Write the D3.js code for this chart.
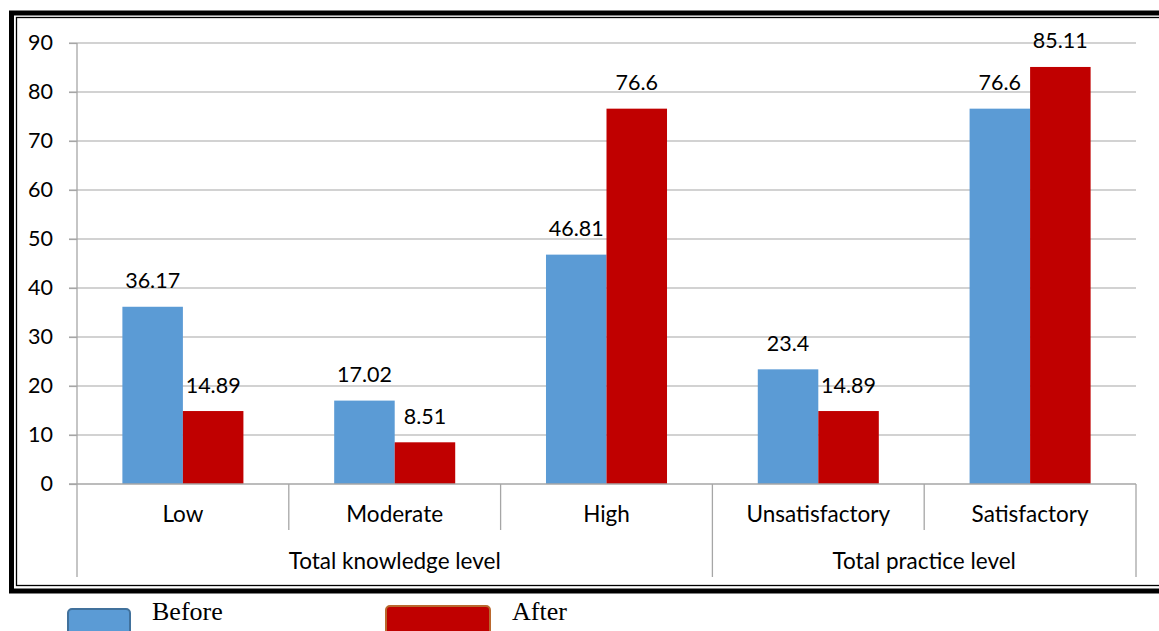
<!DOCTYPE html>
<html>
<head>
<meta charset="utf-8">
<script src="https://cdn.jsdelivr.net/npm/d3@7"></script>
<style>
  html, body { margin: 0; padding: 0; background: #fff; }
  svg { display: block; }
  text { font-family: Lato, "Noto Sans", sans-serif; fill: #000; }
  .legend-text { font-family: "Liberation Serif", "Times New Roman", serif; }
</style>
</head>
<body>
<svg id="chart" width="1159" height="631"></svg>
<script>
// Chart data
const categories = ["Low", "Moderate", "High", "Unsatisfactory", "Satisfactory"];
const groups = [
  { name: "Total knowledge level", span: 3 },
  { name: "Total practice level", span: 2 }
];
const seriesNames = ["Before", "After"];
const beforeValues = [36.17, 17.02, 46.81, 23.4, 76.6];
const afterValues = [14.89, 8.51, 76.6, 14.89, 85.11];
const yTicks = [0, 10, 20, 30, 40, 50, 60, 70, 80, 90];
const seriesColors = ["#5B9BD5", "#C00000"];
const legendStrokes = ["#41719C", "#B9682E"];

const svg = d3.select("#chart");

// Double frame around the chart area
svg.append("rect").attr("x", 11.5).attr("y", 13).attr("width", 1200).attr("height", 578)
  .attr("fill", "none").attr("stroke", "#000").attr("stroke-width", 5);
svg.append("rect").attr("x", 16.5).attr("y", 17.5).attr("width", 1200).attr("height", 568)
  .attr("fill", "none").attr("stroke", "#000").attr("stroke-width", 1.3);

const plot = { left: 77, right: 1136, top: 43, bottom: 484 };

const x0 = d3.scaleBand().domain(categories).range([plot.left, plot.right]).padding(0);
const x1 = d3.scaleBand().domain(seriesNames)
  .range([0, x0.bandwidth()]).paddingOuter(0.75).paddingInner(0);
const y = d3.scaleLinear().domain([0, 90]).range([plot.bottom, plot.top]);

// Horizontal gridlines
svg.append("g").selectAll("line").data(yTicks.filter(t => t > 0)).join("line")
  .attr("x1", plot.left - 8).attr("x2", plot.right)
  .attr("y1", d => y(d)).attr("y2", d => y(d))
  .attr("stroke", "#a6a6a6").attr("stroke-width", 1.2);

// Y axis
const yAxis = svg.append("g").attr("transform", `translate(${plot.left},0)`)
  .call(d3.axisLeft(y).tickValues(yTicks).tickSize(8).tickPadding(16));
yAxis.select(".domain").remove();
yAxis.selectAll(".tick line").attr("stroke", "#a6a6a6").attr("stroke-width", 1.2);
yAxis.selectAll(".tick text").attr("font-size", 21.5).attr("font-family", "Lato").attr("fill", "#000");

// Bars
const rows = categories.map((c, i) => ({ cat: c, vals: [beforeValues[i], afterValues[i]] }));
const barG = svg.append("g");
rows.forEach(r => {
  r.vals.forEach((v, j) => {
    const s = seriesNames[j];
    barG.append("rect")
      .attr("x", x0(r.cat) + x1(s))
      .attr("y", y(v))
      .attr("width", x1.bandwidth())
      .attr("height", y(0) - y(v))
      .attr("fill", seriesColors[j]);
  });
});

// Value labels
rows.forEach(r => {
  r.vals.forEach((v, j) => {
    const s = seriesNames[j];
    svg.append("text")
      .attr("x", x0(r.cat) + x1(s) + x1.bandwidth() / 2)
      .attr("y", y(v) - 18.5)
      .attr("text-anchor", "middle")
      .attr("font-size", 21.5)
      .text(String(v));
  });
});

// Vertical axis line and category axis
const axisColor = "#a6a6a6";
svg.append("line").attr("x1", plot.left).attr("x2", plot.left)
  .attr("y1", plot.top).attr("y2", 577).attr("stroke", axisColor).attr("stroke-width", 1.3);
svg.append("line").attr("x1", plot.left - 8).attr("x2", plot.right)
  .attr("y1", y(0)).attr("y2", y(0)).attr("stroke", axisColor).attr("stroke-width", 1.3);

// Separators between categories (short) and groups (long)
let idx = 0;
const groupEdges = [0];
groups.forEach(g => { idx += g.span; groupEdges.push(idx); });
categories.forEach((c, i) => {
  if (i === 0) return;
  const xx = x0(c);
  const long = groupEdges.includes(i);
  svg.append("line").attr("x1", xx).attr("x2", xx)
    .attr("y1", y(0)).attr("y2", long ? 577 : 530)
    .attr("stroke", axisColor).attr("stroke-width", 1.3);
});
svg.append("line").attr("x1", plot.right).attr("x2", plot.right)
  .attr("y1", y(0)).attr("y2", 577).attr("stroke", axisColor).attr("stroke-width", 1.3);

// Category labels
svg.append("g").selectAll("text").data(categories).join("text")
  .attr("x", d => x0(d) + x0.bandwidth() / 2)
  .attr("y", 522)
  .attr("text-anchor", "middle")
  .attr("font-size", 22.5)
  .text(d => d);

// Group labels
let start = 0;
groups.forEach(g => {
  const x0Pos = x0(categories[start]);
  const x1Pos = x0(categories[start + g.span - 1]) + x0.bandwidth();
  svg.append("text")
    .attr("x", (x0Pos + x1Pos) / 2)
    .attr("y", 569)
    .attr("text-anchor", "middle")
    .attr("font-size", 22.5)
    .text(g.name);
  start += g.span;
});

// Legend
const legendItems = [
  { name: seriesNames[0], x: 68, w: 62, y: 609, tx: 152 },
  { name: seriesNames[1], x: 386, w: 104, y: 606, tx: 512 }
];
legendItems.forEach((d, j) => {
  svg.append("rect")
    .attr("x", d.x).attr("y", d.y).attr("width", d.w).attr("height", 40)
    .attr("rx", 4).attr("ry", 4)
    .attr("fill", seriesColors[j]).attr("stroke", legendStrokes[j]).attr("stroke-width", 2);
  svg.append("text").attr("class", "legend-text")
    .attr("x", d.tx).attr("y", 620)
    .attr("font-size", 26)
    .text(d.name);
});
</script>
</body>
</html>
